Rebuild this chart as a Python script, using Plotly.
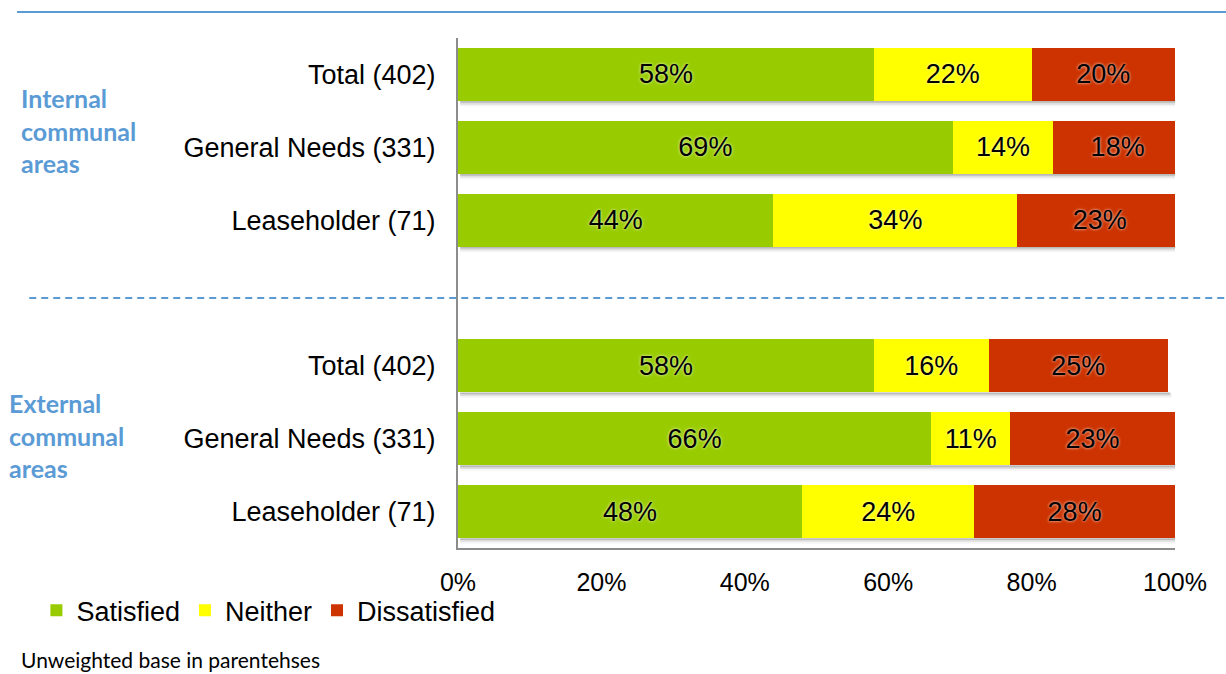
import plotly.graph_objects as go

# Row labels (one blank slot separates the two groups)
row_labels = ["Total (402)", "General Needs (331)", "Leaseholder (71)",
              "Total (402)", "General Needs (331)", "Leaseholder (71)"]
row_pos = [0, 1, 2, 4, 5, 6]

satisfied = [58, 69, 44, 58, 66, 48]
neither = [22, 14, 34, 16, 11, 24]
dissatisfied = [20, 18, 23, 25, 23, 28]

series_names = ["Satisfied", "Neither", "Dissatisfied"]
series_values = [satisfied, neither, dissatisfied]
series_colors = ["#99CC00", "#FFFF00", "#CC3300"]

group_labels = ["Internal<br>communal<br>areas", "External<br>communal<br>areas"]
x_ticks = [0, 20, 40, 60, 80, 100]
footnote = "Unweighted base in parentehses"

BAR_W = 0.73
ARIAL = "Liberation Sans, Arial, sans-serif"
BLUE = "#5B9BD5"

fig = go.Figure()
for name, vals, col in zip(series_names, series_values, series_colors):
    fig.add_trace(go.Bar(
        y=row_pos, x=vals, orientation="h", name=name,
        marker=dict(color=col, line=dict(width=0)),
        width=BAR_W,
        text=[f"{v}%" for v in vals],
        textposition="inside", insidetextanchor="middle",
        textangle=0, constraintext="none",
        insidetextfont=dict(family=ARIAL, size=27, color="black",
                            shadow="0px 0px 3px rgba(255,255,255,0.9)"),
        hoverinfo="skip",
    ))

# soft drop shadow under each bar
shapes = []
for i, p in enumerate(row_pos):
    total = min(100, satisfied[i] + neither[i] + dissatisfied[i])
    for k, a in enumerate([0.16, 0.09, 0.04]):
        shapes.append(dict(
            type="rect", xref="x", yref="y", layer="below",
            x0=0.3, x1=total + 0.25 + 0.15 * k,
            y0=p + BAR_W / 2, y1=p + BAR_W / 2 + 0.025 * (k + 1),
            fillcolor=f"rgba(0,0,0,{a})", line=dict(width=0),
        ))

# solid rule across the top and dashed divider between the groups
shapes.append(dict(type="line", xref="paper", yref="paper",
                   x0=-0.615, x1=1.08, y0=1.051, y1=1.051,
                   line=dict(color=BLUE, width=2)))
shapes.append(dict(type="line", xref="paper", yref="y",
                   x0=-0.598, x1=1.08, y0=3.07, y1=3.07,
                   line=dict(color=BLUE, width=2, dash="7px,5px")))

annotations = [
    dict(text=group_labels[0], xref="paper", yref="y", x=-0.612, y=0.77,
         xanchor="left", yanchor="middle", align="left", showarrow=False,
         font=dict(family="Lato, sans-serif", size=25, color=BLUE, weight="bold")),
    dict(text=group_labels[1], xref="paper", yref="y", x=-0.629, y=4.95,
         xanchor="left", yanchor="middle", align="left", showarrow=False,
         font=dict(family="Lato, sans-serif", size=25, color=BLUE, weight="bold")),
    dict(text=footnote, xref="paper", yref="paper", x=-0.612, y=-0.219,
         xanchor="left", yanchor="middle", align="left", showarrow=False,
         font=dict(family="Lato, sans-serif", size=21, color="black")),
]

fig.update_layout(
    width=1226, height=674,
    margin=dict(l=458, r=51, t=38, b=126),
    barmode="stack", bargap=0.27,
    plot_bgcolor="white", paper_bgcolor="white",
    showlegend=True,
    legend=dict(orientation="h", x=-0.588, xanchor="left", y=-0.075, yanchor="top",
                font=dict(family=ARIAL, size=27, color="black"),
                itemwidth=30, traceorder="normal", bgcolor="rgba(0,0,0,0)"),
    shapes=shapes, annotations=annotations,
    xaxis=dict(range=[0, 100], tickvals=x_ticks, ticktext=[f"{t}%" for t in x_ticks],
               showgrid=False, zeroline=False, showline=True,
               linecolor="#8c8c8c", linewidth=2, ticks="",
               tickfont=dict(family=ARIAL, size=25, color="black"),
               ticklabelstandoff=11),
    yaxis=dict(range=[6.5, -0.5], tickvals=row_pos, ticktext=row_labels,
               showgrid=False, zeroline=False, showline=True,
               linecolor="#8c8c8c", linewidth=2, ticks="",
               tickfont=dict(family=ARIAL, size=27, color="black"),
               ticklabelstandoff=15),
)

fig.write_html("out.html")
